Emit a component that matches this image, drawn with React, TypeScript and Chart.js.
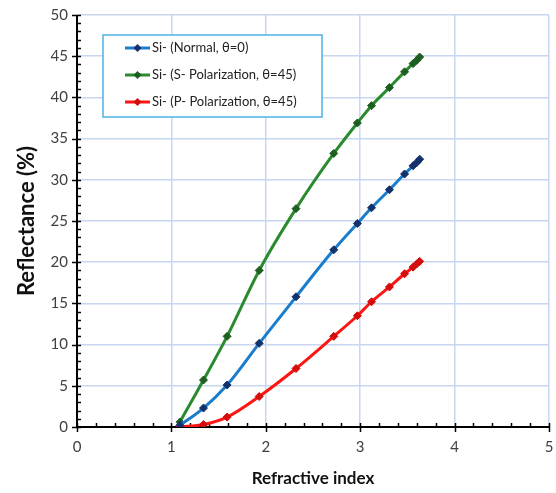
import React, { useEffect, useRef } from "react";
import { Chart, registerables } from "chart.js";

Chart.register(...registerables);

// ---- Data ----
const refractiveIndex = [1.09, 1.34, 1.59, 1.93, 2.32, 2.72, 2.97, 3.12, 3.31, 3.47, 3.56, 3.6, 3.63];
const normalReflectance = [0.2, 2.3, 5.1, 10.15, 15.8, 21.5, 24.7, 26.6, 28.8, 30.7, 31.7, 32.1, 32.5];
const sPolReflectance = [0.6, 5.7, 11.0, 19.0, 26.5, 33.2, 36.9, 39.0, 41.2, 43.1, 44.1, 44.5, 44.9];
const pPolReflectance = [0.0, 0.3, 1.2, 3.7, 7.1, 11.0, 13.5, 15.2, 17.0, 18.6, 19.4, 19.8, 20.1];
const seriesLabels = ["Si- (Normal, θ=0)", "Si- (S- Polarization, θ=45)", "Si- (P- Polarization, θ=45)"];
const xTickValues = [0, 1, 2, 3, 4, 5];
const yTickValues = [0, 5, 10, 15, 20, 25, 30, 35, 40, 45, 50];
const xMinorStep = 0.2;
const yMinorStep = 1;
const xTitle = "Refractive index";
const yTitle = "Reflectance (%)";

const lineColors = ["#1a7ccc", "#2a8a2e", "#ff1414"];
const markerColors = ["#13316b", "#1d5e21", "#d40c0c"];

const FONT = "Lato";

const toPoints = (ys: number[]) => refractiveIndex.map((x, i) => ({ x, y: ys[i] }));

const axisPlugin = {
  id: "excelAxes",
  beforeDatasetsDraw(chart: any) {
    const { ctx, chartArea } = chart;
    const xs = chart.scales.x;
    const ys = chart.scales.y;
    const y0 = ys.getPixelForValue(yTickValues[0]);
    const x0 = xs.getPixelForValue(xTickValues[0]);
    ctx.save();
    ctx.strokeStyle = "#000";
    ctx.lineWidth = 2;
    ctx.beginPath();
    ctx.moveTo(chartArea.left - 1, y0);
    ctx.lineTo(chartArea.right + 1, y0);
    ctx.moveTo(x0, chartArea.top);
    ctx.lineTo(x0, chartArea.bottom + 1);
    ctx.stroke();
    ctx.lineWidth = 1.5;
    const xMin = xTickValues[0];
    const xMax = xTickValues[xTickValues.length - 1];
    const nX = Math.round((xMax - xMin) / xMinorStep);
    for (let i = 0; i <= nX; i++) {
      const v = xMin + i * xMinorStep;
      const px = Math.round(xs.getPixelForValue(v)) + 0.5;
      const major = xTickValues.some((t) => Math.abs(t - v) < 1e-6);
      ctx.beginPath();
      ctx.moveTo(px, y0 - 4);
      ctx.lineTo(px, major ? y0 + 5 : y0);
      ctx.stroke();
    }
    const yMin = yTickValues[0];
    const yMax = yTickValues[yTickValues.length - 1];
    const nY = Math.round((yMax - yMin) / yMinorStep);
    for (let i = 0; i <= nY; i++) {
      const v = yMin + i * yMinorStep;
      const py = Math.round(ys.getPixelForValue(v)) + 0.5;
      const major = yTickValues.some((t) => Math.abs(t - v) < 1e-6);
      ctx.beginPath();
      ctx.moveTo(major ? x0 - 5 : x0, py);
      ctx.lineTo(x0 + 4, py);
      ctx.stroke();
    }
    ctx.restore();
  },
};

const legendPlugin = {
  id: "insideLegend",
  afterDraw(chart: any) {
    const { ctx, chartArea } = chart;
    const left = chartArea.left + 26;
    const top = chartArea.top + 20;
    const w = 219;
    const h = 82;
    ctx.save();
    ctx.fillStyle = "#fff";
    ctx.fillRect(left, top, w, h);
    ctx.strokeStyle = "#4db3e6";
    ctx.lineWidth = 1.5;
    ctx.strokeRect(left, top, w, h);
    ctx.font = `13px ${FONT}`;
    ctx.textBaseline = "middle";
    ctx.textAlign = "left";
    chart.data.datasets.forEach((ds: any, i: number) => {
      const cy = top + 13 + i * 27;
      ctx.strokeStyle = ds.borderColor;
      ctx.lineWidth = 3;
      ctx.beginPath();
      ctx.moveTo(left + 22, cy);
      ctx.lineTo(left + 47, cy);
      ctx.stroke();
      const mx = left + 34.5;
      ctx.fillStyle = ds.pointBackgroundColor;
      ctx.beginPath();
      ctx.moveTo(mx, cy - 4);
      ctx.lineTo(mx + 4, cy);
      ctx.lineTo(mx, cy + 4);
      ctx.lineTo(mx - 4, cy);
      ctx.closePath();
      ctx.fill();
      ctx.fillStyle = "#222";
      ctx.fillText(ds.label, left + 49, cy);
    });
    ctx.restore();
  },
};

export default function App() {
  const canvasRef = useRef<HTMLCanvasElement | null>(null);

  useEffect(() => {
    if (!canvasRef.current) return;
    const makeDs = (label: string, ys: number[], i: number) => ({
      label,
      data: toPoints(ys),
      showLine: true,
      borderColor: lineColors[i],
      borderWidth: 3,
      cubicInterpolationMode: "monotone",
      pointStyle: "rectRot",
      pointRadius: 4,
      pointBorderWidth: 1,
      pointBackgroundColor: markerColors[i],
      pointBorderColor: markerColors[i],
    });
    const chart = new Chart(canvasRef.current, {
      type: "scatter",
      data: {
        datasets: [
          makeDs(seriesLabels[0], normalReflectance, 0),
          makeDs(seriesLabels[1], sPolReflectance, 1),
          makeDs(seriesLabels[2], pPolReflectance, 2),
        ],
      },
      options: {
        animation: false,
        responsive: false,
        layout: { padding: { top: 15, right: 7, left: 0, bottom: 0 } },
        plugins: { legend: { display: false }, tooltip: { enabled: false } },
        scales: {
          x: {
            type: "linear",
            min: xTickValues[0],
            max: xTickValues[xTickValues.length - 1],
            afterBuildTicks: (s: any) => {
              s.ticks = xTickValues.map((v) => ({ value: v }));
            },
            afterFit: (s: any) => {
              s.height = 66;
              s.paddingLeft = 0;
              s.paddingRight = 0;
            },
            grid: { color: "#c8d6ef", lineWidth: 1.5, drawTicks: false },
            border: { display: false },
            ticks: { font: { family: FONT, size: 15 }, color: "#404040", padding: 11 },
            title: {
              display: true,
              text: xTitle,
              font: { family: FONT, size: 17, weight: "bold" },
              color: "#111",
              padding: { top: 0, bottom: 4 },
            },
          },
          y: {
            type: "linear",
            min: yTickValues[0],
            max: yTickValues[yTickValues.length - 1],
            afterBuildTicks: (s: any) => {
              s.ticks = yTickValues.map((v) => ({ value: v }));
            },
            afterFit: (s: any) => {
              s.width = 77;
              s.paddingTop = 0;
              s.paddingBottom = 0;
            },
            grid: { color: "#c8d6ef", lineWidth: 1.5, drawTicks: false },
            border: { display: false },
            ticks: { font: { family: FONT, size: 15 }, color: "#404040", padding: 9 },
            title: {
              display: true,
              text: yTitle,
              font: { family: FONT, size: 22, weight: "bold" },
              color: "#111",
              padding: { top: 14, bottom: 0 },
            },
          },
        },
      },
      plugins: [axisPlugin, legendPlugin],
    } as any);
    return () => chart.destroy();
  }, []);

  return (
    <div style={{ position: "absolute", left: 0, top: 0, width: 556, height: 493, background: "#fff" }}>
      <canvas ref={canvasRef} width={556} height={493} />
    </div>
  );
}
